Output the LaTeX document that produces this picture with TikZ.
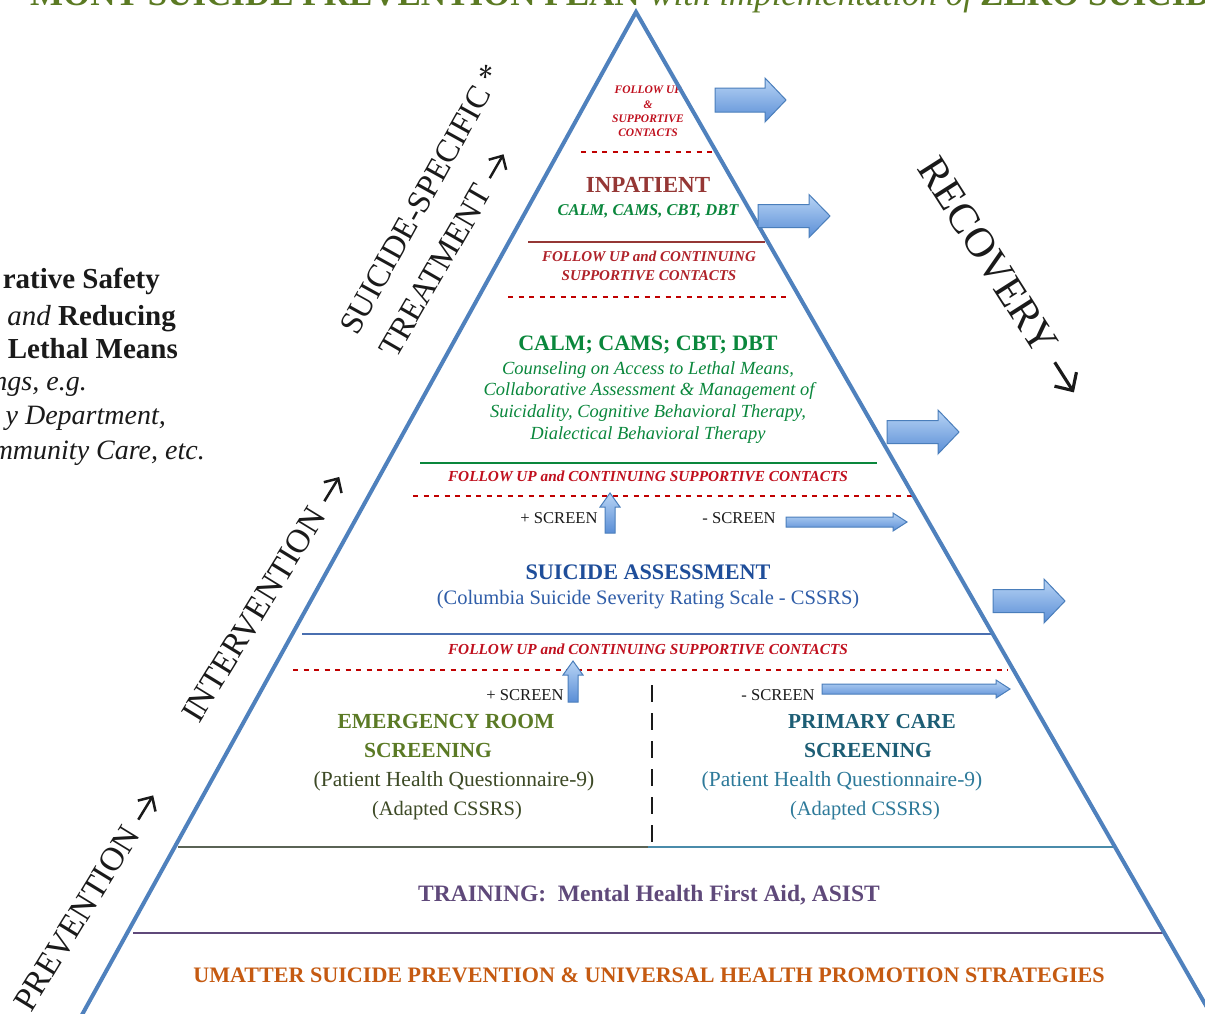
\documentclass[tikz,border=0pt]{standalone}
\usepackage{fontspec}
\setmainfont{Liberation Serif}
\usetikzlibrary{calc,arrows.meta}

% palette
\definecolor{pyrblue}{HTML}{4F81BD}
\definecolor{titlegreen}{HTML}{5B7A23}
\definecolor{inred}{HTML}{953735}
\definecolor{txtred}{HTML}{C0101E}
\definecolor{txtred2}{HTML}{B0222A}
\definecolor{dashred}{HTML}{C00000}
\definecolor{treatgreen}{HTML}{0A873C}
\definecolor{assessblue}{HTML}{1F4E9A}
\definecolor{assessblue2}{HTML}{2F5DA8}
\definecolor{bluerule}{HTML}{4A6FB0}
\definecolor{erolive}{HTML}{5B7A25}
\definecolor{erdark}{HTML}{3D4A26}
\definecolor{pcteal}{HTML}{1D5E75}
\definecolor{pcteal2}{HTML}{2E7A9A}
\definecolor{ruleolive}{HTML}{5A6355}
\definecolor{ruleteal}{HTML}{4A8BAA}
\definecolor{trainpurple}{HTML}{5F497A}
\definecolor{umorange}{HTML}{C55A11}
\definecolor{arrowtop}{HTML}{B8D4F5}
\definecolor{arrowbot}{HTML}{5A8ED6}
\definecolor{arrowedge}{HTML}{4A7EBB}
\definecolor{inkblack}{HTML}{1A1A1A}

\newcommand\fs[2]{\fontsize{#1}{#2}\selectfont}
% open-headed arrow glyph that follows the current font size
\newcommand\sidearrow{\tikz[baseline=0pt,x=1em,y=1em]\draw[inkblack,line width=0.075em,-{Straight Barb[length=0.32em,width=0.62em,line width=0.075em]}] (0,0.3) -- (0.85,0.3);}
% right-pointing block arrow: x start, y centre, x tip, shaft half-height, head half-height, head length
\newcommand\blockarrow[6]{\draw[arrowbox] (#1,#2-#4) -- (#3-#6,#2-#4) -- (#3-#6,#2-#5) -- (#3,#2) -- (#3-#6,#2+#5) -- (#3-#6,#2+#4) -- (#1,#2+#4) -- cycle;}
% upward block arrow: x centre, y tip, y bottom, shaft half-width, head half-width, head length
\newcommand\upblock[6]{\draw[arrowbox] (#1-#4,#3) -- (#1-#4,#2+#6) -- (#1-#5,#2+#6) -- (#1,#2) -- (#1+#5,#2+#6) -- (#1+#4,#2+#6) -- (#1+#4,#3) -- cycle;}

\begin{document}
\begin{tikzpicture}[x=1pt,y=-1pt,
  lbl/.style={inner sep=0pt, anchor=base},
  side/.style={inner sep=0pt, anchor=base west, text=inkblack},
  lefttxt/.style={inner sep=0pt, anchor=base east, text=inkblack, font=\fs{29}{34}},
  reddash/.style={draw=dashred, line width=1.5pt, dash pattern=on 5pt off 5.5pt},
  rule/.style={line width=1.6pt},
  arrowbox/.style={draw=arrowedge, line width=1pt, top color=arrowtop, bottom color=arrowbot, line join=miter},
  outline/.style={draw=pyrblue, line width=4pt, line join=miter, miter limit=20}]

\useasboundingbox (0,0) rectangle (1205,1013);
\fill[white] (0,0) rectangle (1205,1013);
\clip (0,0) rectangle (1205,1013);

% ---- title (runs off the top edge)
\node[lbl, anchor=base east, font=\fs{35}{40}\bfseries, text=titlegreen] (titleA) at (640,5) {MONT SUICIDE PREVENTION PLAN};
\node[lbl, anchor=base west, font=\fs{35}{40}\itshape, text=titlegreen] (titleB) at (650,5) {with implementation of};
\node[lbl, anchor=base west, font=\fs{35}{40}\bfseries, text=titlegreen] (titleC) at (980,5) {ZERO SUICIDE};

% ---- left-hand note (runs off the left edge)
\node[lefttxt, font=\fs{29}{34}\bfseries] (noteA) at (160,288) {rative Safety};
\node[lefttxt, font=\fs{29}{34}\bfseries] (noteB) at (176,325) {\textit{\mdseries and} Reducing};
\node[lefttxt, font=\fs{29}{34}\bfseries] (noteC) at (178,358) {Lethal Means};
\node[lefttxt, font=\fs{28}{34}\itshape] (noteD) at (87,390) {ngs, e.g.};
\node[lefttxt, font=\fs{28}{34}\itshape] (noteE) at (166,424) {y Department,};
\node[lefttxt, font=\fs{28}{34}\itshape] (noteF) at (205,459) {mmunity Care, etc.};

% ---- side labels along the pyramid
\node[side, rotate=61, font=\fs{32.5}{38}] (labSpecific) at (357,337) {SUICIDE-SPECIFIC *};
\node[side, rotate=60, font=\fs{32.5}{38}] (labTreat) at (396,360) {TREATMENT\hspace{0.3em}\sidearrow};
\node[side, rotate=58.5, font=\fs{33.5}{38}] (labInterv) at (199,725) {INTERVENTION\hspace{0.3em}\sidearrow};
\node[side, rotate=58.5, font=\fs{33.5}{38}] (labPrev) at (31,1014) {PREVENTION\hspace{0.3em}\sidearrow};
\node[side, rotate=-57.5, font=\fs{42}{46}] (labRecov) at (916,168) {RECOVERY\hspace{0.3em}\sidearrow};

% ---- apex tier
\node[lbl, font=\fs{11.5}{14}\bfseries\itshape, text=txtred] (apexA) at (648,93) {FOLLOW UP};
\node[lbl, font=\fs{11.5}{14}\bfseries\itshape, text=txtred] (apexB) at (648,108) {\&};
\node[lbl, font=\fs{11.5}{14}\bfseries\itshape, text=txtred] (apexC) at (648,122) {SUPPORTIVE};
\node[lbl, font=\fs{11.5}{14}\bfseries\itshape, text=txtred] (apexD) at (648,136) {CONTACTS};

% ---- inpatient tier
\node[lbl, font=\fs{23}{27}\bfseries, text=inred] (inpat) at (648,192) {INPATIENT};
\node[lbl, font=\fs{16.5}{20}\bfseries\itshape, text=treatgreen] (inpatTx) at (648,215) {CALM, CAMS, CBT, DBT};
\node[lbl, font=\fs{15}{18}\bfseries\itshape, text=txtred2] (fuA1) at (649,261) {FOLLOW UP and CONTINUING};
\node[lbl, font=\fs{15}{18}\bfseries\itshape, text=txtred2] (fuA2) at (649,280) {SUPPORTIVE CONTACTS};

% ---- treatment tier
\node[lbl, font=\fs{22}{26}\bfseries, text=treatgreen] (calm) at (648,350) {CALM; CAMS; CBT; DBT};
\node[lbl, font=\fs{18.5}{22}\itshape, text=treatgreen] (calmA) at (648,374) {Counseling on Access to Lethal Means,};
\node[lbl, font=\fs{18.5}{22}\itshape, text=treatgreen] (calmB) at (649,395) {Collaborative Assessment \& Management of};
\node[lbl, font=\fs{18.5}{22}\itshape, text=treatgreen] (calmC) at (648,417) {Suicidality, Cognitive Behavioral Therapy,};
\node[lbl, font=\fs{18.5}{22}\itshape, text=treatgreen] (calmD) at (648,439) {Dialectical Behavioral Therapy};
\node[lbl, font=\fs{15.3}{18}\bfseries\itshape, text=txtred] (fuB) at (648,481) {FOLLOW UP and CONTINUING SUPPORTIVE CONTACTS};

% ---- assessment tier
\node[lbl, font=\fs{16.6}{20}, text=inkblack] (plusA) at (559,523) {+ SCREEN};
\node[lbl, font=\fs{16.6}{20}, text=inkblack] (minusA) at (739,523) {- SCREEN};
\node[lbl, font=\fs{22.2}{26}\bfseries, text=assessblue] (assess) at (648,579) {SUICIDE ASSESSMENT};
\node[lbl, font=\fs{20.5}{24}, text=assessblue2] (cssrs) at (648,604) {(Columbia Suicide Severity Rating Scale - CSSRS)};
\node[lbl, font=\fs{15.3}{18}\bfseries\itshape, text=txtred] (fuC) at (648,654) {FOLLOW UP and CONTINUING SUPPORTIVE CONTACTS};

% ---- screening tier
\node[lbl, font=\fs{16.6}{20}, text=inkblack] (plusB) at (525,700) {+ SCREEN};
\node[lbl, font=\fs{16.6}{20}, text=inkblack] (minusB) at (778,700) {- SCREEN};
\node[lbl, font=\fs{21.5}{25}\bfseries, text=erolive] (erA) at (446,728) {EMERGENCY ROOM};
\node[lbl, font=\fs{21.5}{25}\bfseries, text=erolive] (erB) at (428,757) {SCREENING};
\node[lbl, font=\fs{21.5}{25}, text=erdark] (erC) at (454,786) {(Patient Health Questionnaire-9)};
\node[lbl, font=\fs{20.5}{25}, text=erdark] (erD) at (447,815) {(Adapted CSSRS)};
\node[lbl, font=\fs{21.3}{25}\bfseries, text=pcteal] (pcA) at (872,728) {PRIMARY CARE};
\node[lbl, font=\fs{21.5}{25}\bfseries, text=pcteal] (pcB) at (868,757) {SCREENING};
\node[lbl, font=\fs{21.5}{25}, text=pcteal2] (pcC) at (842,786) {(Patient Health Questionnaire-9)};
\node[lbl, font=\fs{20.5}{25}, text=pcteal2] (pcD) at (865,815) {(Adapted CSSRS)};

% ---- base tiers
\node[lbl, font=\fs{23.5}{28}\bfseries, text=trainpurple] (train) at (649,901) {TRAINING:\ \ Mental Health First Aid, ASIST};
\node[lbl, font=\fs{22.1}{26}\bfseries, text=umorange] (umatter) at (649,982) {UMATTER SUICIDE PREVENTION \& UNIVERSAL HEALTH PROMOTION STRATEGIES};

% ---- tier separators
\draw[reddash] (581,152) -- (712,152);
\draw[rule, inred] (528,242) -- (765,242);
\draw[reddash] (508,297) -- (790,297);
\draw[rule, treatgreen] (420,463) -- (877,463);
\draw[reddash] (413,496) -- (912,496);
\draw[rule, bluerule] (302,634) -- (993,634);
\draw[reddash] (293,670) -- (1008,670);
\draw[rule, ruleolive] (178,847) -- (648,847);
\draw[rule, ruleteal] (648,847) -- (1113,847);
\draw[rule, trainpurple] (133,933) -- (1165,933);
\draw[inkblack, line width=2pt, dash pattern=on 17pt off 11pt] (652,685) -- (652,852);

% ---- screening arrows
\upblock{610}{493}{533}{5}{10}{14}
\blockarrow{786}{522}{907}{5}{9}{14}
\upblock{573}{661}{702}{5}{10}{14}
\blockarrow{822}{689}{1010}{5}{9}{14}

% ---- pyramid outline
\draw[outline] (73.6,1030) -- (636,12) -- (1220,1030);

% ---- recovery exits
\blockarrow{715}{100}{786}{12}{22}{21}
\blockarrow{758}{216}{830}{11.5}{21.5}{21}
\blockarrow{887}{432}{959}{11.5}{22}{21}
\blockarrow{993}{601}{1065}{11.5}{22}{21}

\end{tikzpicture}
\end{document}
